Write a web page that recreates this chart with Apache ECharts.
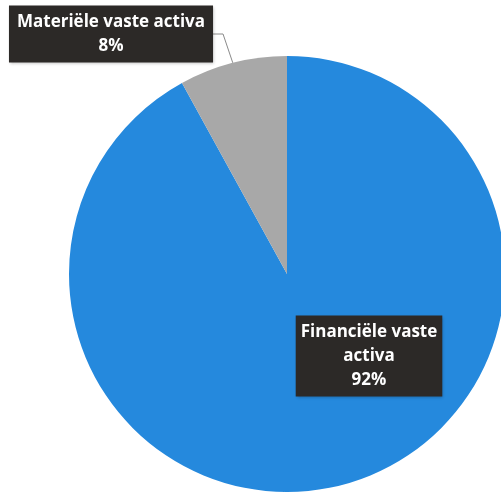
<!DOCTYPE html>
<html>
<head>
<meta charset="utf-8">
<script src="https://cdn.jsdelivr.net/npm/echarts@6/dist/echarts.min.js"></script>
<style>
  html, body { margin: 0; padding: 0; background: #ffffff; }
  #chart { width: 501px; height: 493px; }
</style>
</head>
<body>
<div id="chart"></div>
<script>
// slice names and their shares (percent)
const categories = ['Financiële vaste activa', 'Materiële vaste activa'];
const shares = [92, 8];
const sliceColors = ['#2589dd', '#a8a8a8'];
// label text as shown in the boxes
const labelTexts = ['Financiële vaste\nactiva\n92%', 'Materiële vaste activa\n8%'];

function buildOption() {
    const pieData = categories.map((name, i) => ({
        name: name,
        value: shares[i],
        itemStyle: { color: sliceColors[i] },
        label: {
            position: i === 0 ? 'inside' : 'outside',
            padding: i === 0 ? [5, 5, 4, 5] : [5, 8, 4, 8],
            formatter: () => labelTexts[i],
        },
    }));

    return {
        backgroundColor: '#ffffff',
        animation: false,
        series: [
            {
                type: 'pie',
                center: [287, 274],
                radius: 218,
                startAngle: 90,
                clockwise: true,
                data: pieData,
                label: {
                    show: true,
                    color: '#ffffff',
                    fontFamily: 'Open Sans',
                    fontWeight: 'bold',
                    fontSize: 17,
                    lineHeight: 24,
                    align: 'center',
                    backgroundColor: '#2c2927',
                    shadowColor: 'rgba(0,0,0,0.25)',
                    shadowBlur: 3,
                    shadowOffsetX: 1,
                    shadowOffsetY: 1,
                },
                labelLine: {
                    show: true,
                    length: 10,
                    length2: 10,
                    lineStyle: { color: '#8a8a8a', width: 1 },
                },
                labelLayout: function (params) {
                    if (params.dataIndex === 1) {
                        return { x: 111, y: 34, align: 'center', verticalAlign: 'middle' };
                    }
                    return { x: 369, y: 356, align: 'center', verticalAlign: 'middle' };
                },
            },
        ],
    };
}

const chart = echarts.init(document.getElementById('chart'));
chart.setOption(buildOption());
window.addEventListener('resize', () => chart.resize());
</script>
</body>
</html>
